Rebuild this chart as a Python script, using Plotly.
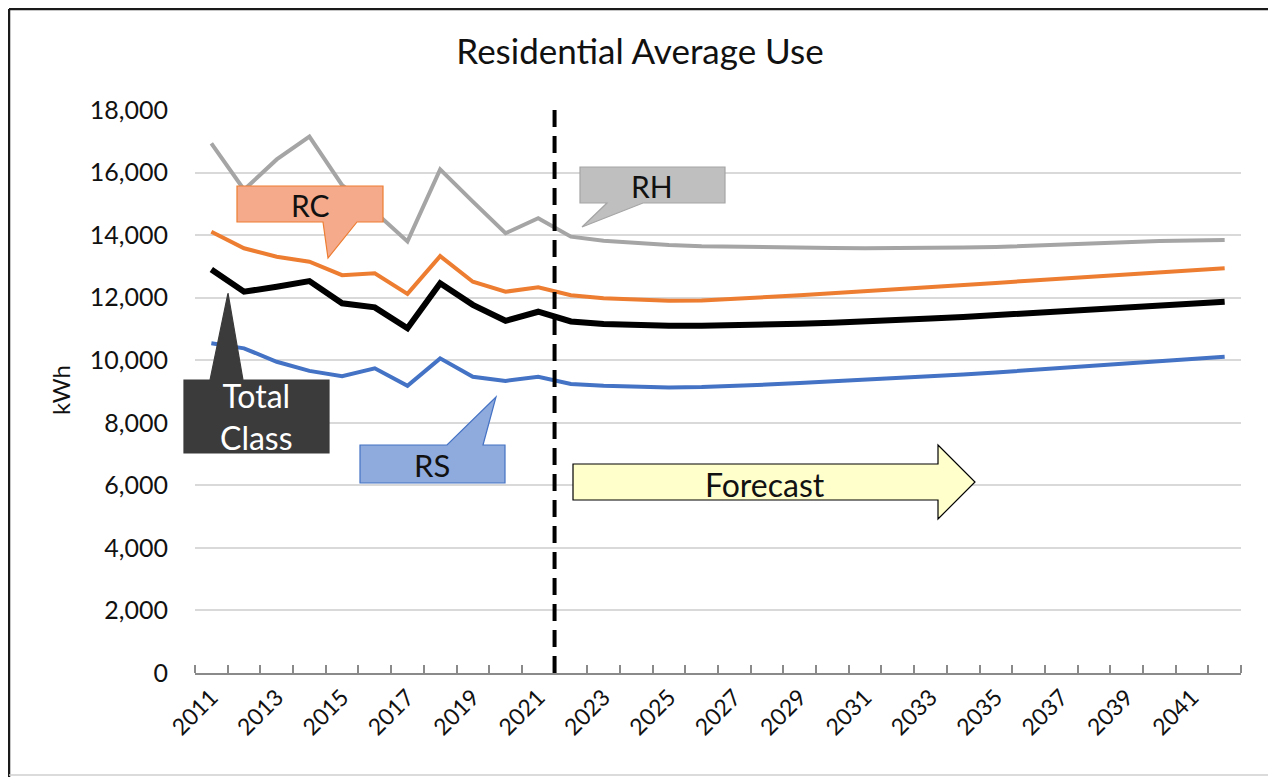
import plotly.graph_objects as go

# ---------------- data ----------------
years = list(range(2011, 2043))
rh = [16930, 15450, 16420, 17150, 15600, 14750, 13800, 16100, 15070, 14060, 14540,
      13950, 13820, 13740, 13680, 13640, 13620, 13610, 13600, 13590, 13580, 13580,
      13580, 13600, 13620, 13660, 13710, 13750, 13780, 13810, 13830, 13840]
rc = [14110, 13580, 13310, 13150, 12720, 12780, 12120, 13330, 12510, 12190, 12330,
      12080, 11980, 11930, 11900, 11910, 11950, 12020, 12080, 12140, 12200, 12260,
      12330, 12400, 12470, 12540, 12610, 12680, 12750, 12810, 12880, 12940]
total = [12900, 12190, 12350, 12530, 11820, 11690, 11020, 12460, 11770, 11260, 11550,
         11240, 11160, 11120, 11100, 11100, 11110, 11140, 11170, 11200, 11230, 11270,
         11330, 11380, 11440, 11500, 11570, 11630, 11690, 11750, 11810, 11870]
rs = [10540, 10380, 9950, 9660, 9490, 9740, 9180, 10060, 9470, 9340, 9470,
      9240, 9180, 9150, 9130, 9140, 9170, 9220, 9270, 9320, 9370, 9420,
      9480, 9540, 9610, 9680, 9750, 9820, 9890, 9960, 10040, 10110]
tick_years = list(range(2011, 2042, 2))
tick_labels = [str(y) for y in tick_years]
y_ticks = list(range(0, 18001, 2000))
y_labels = [f"{v:,}" for v in y_ticks]
forecast_start = 2021.5

# page offset (browser body margin)
OFF = 8
SW, SH = 1276, 777                       # screen size
W, H = SW - OFF, SH - OFF                # figure size
PL, PR, PT, PB = 195, 1241, 110, 673     # plot area in screen px
L, R, T, B = PL - OFF, W - (PR - OFF), PT - OFF, H - (PB - OFF)
PW, PH = PR - PL, PB - PT


def xp(px):
    return (px - PL) / PW


def yp(py):
    return (PB - py) / PH


FONT = "Lato"

fig = go.Figure()
fig.add_trace(go.Scatter(x=years, y=rh, mode="lines", name="RH",
                         line=dict(color="#A5A5A5", width=4)))
fig.add_trace(go.Scatter(x=years, y=rc, mode="lines", name="RC",
                         line=dict(color="#ED7D31", width=4)))
fig.add_trace(go.Scatter(x=years, y=total, mode="lines", name="Total Class",
                         line=dict(color="#000000", width=6)))
fig.add_trace(go.Scatter(x=years, y=rs, mode="lines", name="RS",
                         line=dict(color="#4472C4", width=4)))

shapes = []
# forecast divider
shapes.append(dict(type="line", xref="x", yref="paper", x0=forecast_start, x1=forecast_start,
                   y0=0, y1=yp(105), line=dict(color="black", width=4, dash="17px,9px")))


def poly(pts, fill, line_color, lw=1.2):
    path = "M " + " L ".join(f"{xp(a):.5f},{yp(b):.5f}" for a, b in pts) + " Z"
    return dict(type="path", xref="paper", yref="paper", path=path,
                fillcolor=fill, line=dict(color=line_color, width=lw), layer="above")


# RC callout
shapes.append(poly([(237, 186), (383, 186), (383, 222), (357, 222), (328, 258),
                    (323, 222), (237, 222)], "#F5AA8C", "#ED7D31"))
# RH callout
shapes.append(poly([(580, 167), (725, 167), (725, 203), (643, 203), (582, 227),
                    (607, 203), (580, 203)], "#BFBFBF", "#A5A5A5"))
# Total Class callout
shapes.append(poly([(184, 380), (210, 380), (228, 293), (243, 380), (329, 380),
                    (329, 453), (184, 453)], "#3B3B3B", "#3B3B3B"))
# RS callout
shapes.append(poly([(360, 445), (447, 445), (496, 397), (483, 445), (505, 445),
                    (505, 483), (360, 483)], "#8FAADC", "#4472C4"))
# Forecast arrow
shapes.append(poly([(573, 464), (938, 464), (938, 445), (975, 482), (938, 519),
                    (938, 500), (573, 500)], "#FFFFCC", "#000000", 1.2))

# outer frame
fx0, fx1, fy0, fy1 = 9, 1271, 9, 775
frame_dark = dict(color="#1a1a1a", width=2.5)
shapes.append(dict(type="line", xref="paper", yref="paper", x0=xp(fx0), x1=xp(fx0),
                   y0=yp(SH + 5), y1=yp(fy0), line=frame_dark))
shapes.append(dict(type="line", xref="paper", yref="paper", x0=xp(fx0), x1=xp(fx1),
                   y0=yp(fy0), y1=yp(fy0), line=frame_dark))
shapes.append(dict(type="line", xref="paper", yref="paper", x0=xp(fx1), x1=xp(fx1),
                   y0=yp(SH + 5), y1=yp(fy0), line=frame_dark))
shapes.append(dict(type="line", xref="paper", yref="paper", x0=xp(fx0), x1=xp(fx1),
                   y0=yp(fy1), y1=yp(fy1), line=dict(color="#CFCFCF", width=1.5)))

annotations = []


def label(px, py, text, size, color="#111111"):
    annotations.append(dict(x=xp(px), y=yp(py), xref="paper", yref="paper", text=text,
                            showarrow=False, font=dict(family=FONT, size=size, color=color),
                            xanchor="center", yanchor="middle"))


label(310, 205, "RC", 30)
label(652, 186, "RH", 30)
label(256, 416, "Total<br>Class", 32, "white")
label(432, 465, "RS", 31)
label(765, 484, "Forecast", 32)

annotations.append(dict(x=xp(60), y=yp(390), xref="paper", yref="paper", text="kWh",
                        showarrow=False, textangle=-90,
                        font=dict(family=FONT, size=24, color="#111111"),
                        xanchor="center", yanchor="middle"))

fig.update_layout(
    width=W, height=H,
    margin=dict(l=L, r=R, t=T, b=B),
    paper_bgcolor="white", plot_bgcolor="white",
    showlegend=False,
    title=dict(text="Residential Average Use", x=(640 - OFF) / W, xanchor="center",
               y=1 - (52 - OFF) / H, yanchor="middle", yref="container",
               font=dict(family=FONT, size=35, color="#111111")),
    shapes=shapes,
    annotations=annotations,
)
fig.update_xaxes(
    range=[2010.5, 2042.5], tickmode="array", tickvals=tick_years, ticktext=tick_labels,
    tickangle=-45, ticks="", showgrid=False, showline=True, linecolor="#8A8A8A", linewidth=1.5,
    tickfont=dict(family=FONT, size=23, color="#111111"),
    minor=dict(tickmode="linear", tick0=2010.5, dtick=1, ticks="inside", ticklen=8,
               tickcolor="#8A8A8A", tickwidth=1.5, showgrid=False),
    zeroline=False,
)
fig.update_yaxes(
    range=[0, 18000], tickmode="array", tickvals=y_ticks, ticktext=y_labels,
    showgrid=True, gridcolor="#D9D9D9", gridwidth=1.5, zeroline=False, showline=False,
    ticks="", ticklabelstandoff=26,
    tickfont=dict(family=FONT, size=25, color="#111111"),
)

fig.write_html("out.html")
